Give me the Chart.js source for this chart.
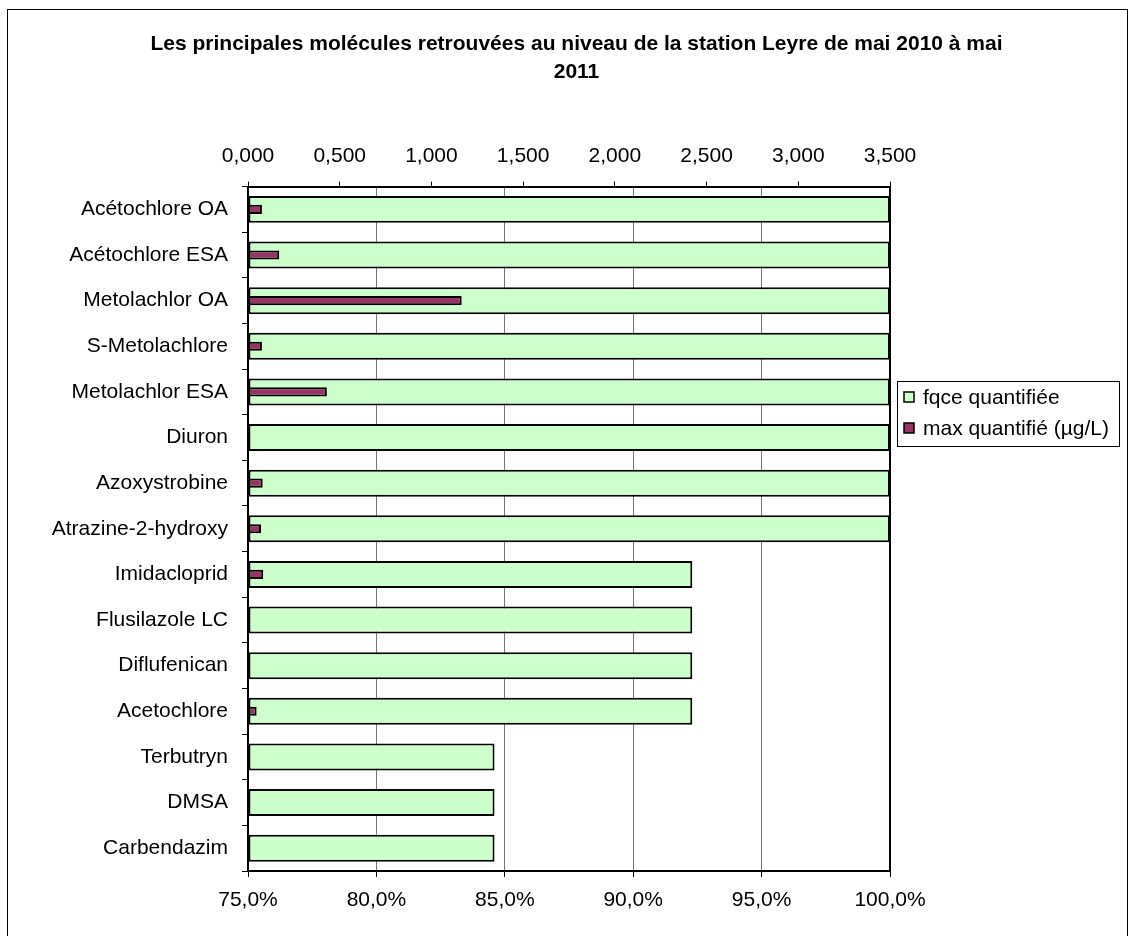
<!DOCTYPE html>
<html>
<head>
<meta charset="utf-8">
<script src="https://cdn.jsdelivr.net/npm/chart.js@4.4.0/dist/chart.umd.min.js"></script>
<style>
  html, body { margin: 0; padding: 0; background: #fff; overflow: hidden; }
  #wrap { width: 1133px; height: 936px; position: relative; }
</style>
</head>
<body>
<div id="wrap"><canvas id="myChart"></canvas></div>
<script>
const molecules = ['Acétochlore OA', 'Acétochlore ESA', 'Metolachlor OA', 'S-Metolachlore',
  'Metolachlor ESA', 'Diuron', 'Azoxystrobine', 'Atrazine-2-hydroxy', 'Imidacloprid',
  'Flusilazole LC', 'Diflufenican', 'Acetochlore', 'Terbutryn', 'DMSA', 'Carbendazim'];
const fqceQuantifiee = [100, 100, 100, 100, 100, 100, 100, 100, 92.3, 92.3, 92.3, 92.3, 84.6, 84.6, 84.6];
const maxQuantifie = [0.076, 0.17, 1.165, 0.076, 0.43, 0.004, 0.08, 0.071, 0.083, null, 0.012, 0.047, null, null, null];
const seriesNames = ['fqce quantifiée', 'max quantifié (µg/L)'];
const titleLines = ['Les principales molécules retrouvées au niveau de la station Leyre de mai 2010 à mai', '2011'];

const FONT = '"Liberation Sans", Arial, sans-serif';

// cadre extérieur + légende encadrée (comme Excel)
const excelFrame = {
  id: 'excelFrame',
  afterDraw(chart) {
    const ctx = chart.ctx;
    const area = chart.chartArea;
    ctx.save();
    ctx.strokeStyle = '#000';
    ctx.lineWidth = 1;
    ctx.strokeRect(7.5, 9.5, 1120, 1000);

    // legend
    const lx = area.right + 7, ly = 381, lw = 222, lh = 65;
    ctx.fillStyle = '#fff';
    ctx.fillRect(lx, ly, lw, lh);
    ctx.strokeRect(lx + 0.5, ly + 0.5, lw, lh);
    ctx.font = '21px ' + FONT;
    ctx.textBaseline = 'middle';
    chart.data.datasets.forEach((ds, i) => {
      const cy = ly + 16 + i * 31;
      ctx.fillStyle = ds.backgroundColor;
      ctx.fillRect(lx + 7, cy - 5, 10, 10);
      ctx.lineWidth = 1.5;
      ctx.strokeStyle = '#000';
      ctx.strokeRect(lx + 7, cy - 5, 10, 10);
      ctx.fillStyle = '#000';
      ctx.fillText(ds.label, lx + 26, cy + 1);
    });
    ctx.restore();
  }
};

const ctx = document.getElementById('myChart').getContext('2d');
const myChart = new Chart(ctx, {
  type: 'bar',
  data: {
    labels: molecules,
    datasets: [{
      label: seriesNames[0],
      data: fqceQuantifiee,
      xAxisID: 'x',
      base: 75,
      backgroundColor: '#CCFFCC',
      borderColor: '#000',
      borderWidth: 2,
      borderSkipped: false,
      barPercentage: 0.59,
      categoryPercentage: 1,
      grouped: false,
      order: 2
    }, {
      label: seriesNames[1],
      data: maxQuantifie,
      xAxisID: 'x2',
      backgroundColor: '#993366',
      borderColor: '#000',
      borderWidth: 2,
      borderSkipped: false,
      barPercentage: 0.2,
      categoryPercentage: 1,
      grouped: false,
      order: 1
    }]
  },
  options: {
    indexAxis: 'y',
    responsive: true,
    maintainAspectRatio: false,
    animation: false,
    layout: { padding: { left: 20, right: 0, top: 0, bottom: 0 } },
    plugins: {
      legend: { display: false },
      tooltip: { enabled: false },
      title: {
        display: true,
        text: titleLines,
        color: '#000',
        font: { family: FONT, size: 21, weight: 'bold', lineHeight: 1.3 },
        padding: { top: 31, bottom: 34 }
      }
    },
    scales: {
      x: {
        type: 'linear',
        position: 'bottom',
        min: 75,
        max: 100,
        afterFit: (s) => { s.height = 65; },
        ticks: {
          stepSize: 5,
          color: '#000',
          padding: 11,
          font: { family: FONT, size: 21 },
          callback: (v) => v.toFixed(1).replace('.', ',') + '%'
        },
        grid: { color: '#777', lineWidth: 1, tickLength: 6, tickColor: '#000' },
        border: { display: true, color: '#000', width: 2 }
      },
      x2: {
        type: 'linear',
        position: 'top',
        min: 0,
        max: 3.5,
        afterFit: (s) => { s.height = 67; },
        ticks: {
          stepSize: 0.5,
          color: '#000',
          padding: 13,
          font: { family: FONT, size: 21 },
          callback: (v) => v.toFixed(3).replace('.', ',')
        },
        grid: { drawOnChartArea: false, tickLength: 5, color: '#000' },
        border: { display: true, color: '#000', width: 2 }
      },
      y: {
        type: 'category',
        position: 'left',
        afterFit: (s) => { s.width = 228; },
        ticks: { color: '#000', padding: 14, font: { family: FONT, size: 21 } },
        grid: { drawOnChartArea: false, offset: true, tickLength: 6, color: '#000' },
        border: { display: true, color: '#000', width: 2 }
      },
      yRight: {
        type: 'category',
        position: 'right',
        afterFit: (s) => { s.width = 243; },
        ticks: { display: false },
        grid: { display: false },
        border: { display: true, color: '#000', width: 2 }
      }
    }
  },
  plugins: [excelFrame]
});
</script>
</body>
</html>
